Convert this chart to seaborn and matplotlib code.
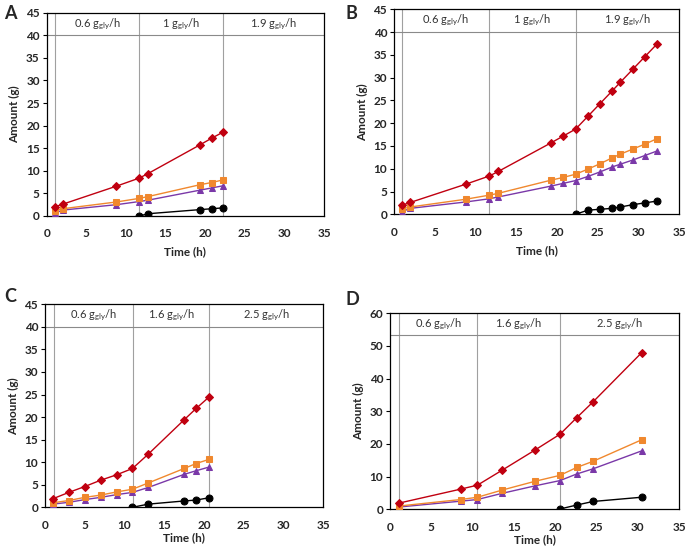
import matplotlib
matplotlib.use("Agg")
import matplotlib.pyplot as plt
import seaborn as sns
import pandas as pd

sns.set_theme(style="white")
plt.rcParams['font.family'] = ['Lato', 'DejaVu Sans']

# ---------------- data ----------------
# Panel A
a_x = [1, 2, 8.8, 11.7, 12.8, 19.3, 20.8, 22.3]
a_red = [2.0, 2.6, 6.6, 8.4, 9.4, 15.7, 17.2, 18.6]
a_orange = [1.2, 1.6, 3.1, 3.9, 4.3, 6.9, 7.4, 8.0]
a_purple = [0.6, 1.3, 2.5, 3.2, 3.5, 5.7, 6.2, 6.7]
a_black_x = [11.7, 12.8, 19.3, 20.8, 22.3]
a_black = [0.0, 0.5, 1.4, 1.6, 1.8]
a_lines = [1, 11.7, 22.3]
a_labels = ["0.6", "1", "1.9"]

# Panel B
b_x = [1, 2, 8.8, 11.7, 12.8, 19.3, 20.8, 22.3, 23.8, 25.3, 26.8, 27.8, 29.3, 30.8, 32.3]
b_red = [2.0, 2.6, 6.6, 8.4, 9.4, 15.7, 17.2, 18.7, 21.5, 24.3, 27.1, 29.0, 31.8, 34.6, 37.4]
b_orange = [1.2, 1.6, 3.3, 4.2, 4.6, 7.5, 8.1, 8.8, 9.9, 11.1, 12.4, 13.2, 14.3, 15.4, 16.6]
b_purple = [0.6, 1.3, 2.7, 3.4, 3.8, 6.2, 6.8, 7.4, 8.3, 9.3, 10.4, 11.0, 11.9, 12.9, 13.9]
b_black_x = [22.3, 23.8, 25.3, 26.8, 27.8, 29.3, 30.8, 32.3]
b_black = [0.0, 0.9, 1.1, 1.3, 1.6, 2.1, 2.5, 2.9]
b_lines = [1, 11.7, 22.3]
b_labels = ["0.6", "1", "1.9"]

# Panel C
c_x = [1, 3, 5, 7, 9, 11, 13, 17.5, 19, 20.6]
c_red = [1.9, 3.3, 4.6, 6.0, 7.2, 8.6, 11.8, 19.4, 21.9, 24.4]
c_orange = [1.0, 1.5, 2.2, 2.7, 3.4, 4.0, 5.4, 8.6, 9.7, 10.6]
c_purple = [0.7, 1.1, 1.7, 2.2, 2.8, 3.3, 4.4, 7.3, 8.1, 8.9]
c_black_x = [11, 13, 17.5, 19, 20.6]
c_black = [0.0, 0.7, 1.4, 1.6, 2.1]
c_lines = [1.1, 11.1, 20.6]
c_labels = ["0.6", "1.6", "2.5"]

# Panel D
d_x = [1.1, 8.6, 10.6, 13.6, 17.6, 20.6, 22.6, 24.6, 30.5]
d_red = [1.9, 6.2, 7.4, 12.0, 18.2, 23.0, 28.0, 32.9, 48.0]
d_orange = [1.0, 3.0, 3.7, 5.9, 8.6, 10.4, 12.8, 14.7, 21.3]
d_purple = [0.7, 2.5, 3.0, 4.9, 7.2, 8.8, 10.8, 12.4, 17.9]
d_black_x = [20.6, 22.6, 24.6, 30.5]
d_black = [0.1, 1.3, 2.4, 3.7]
d_lines = [1.1, 10.6, 20.6]
d_labels = ["0.6", "1.6", "2.5"]

RED, ORANGE, PURPLE, BLACK = "#C00010", "#F0882E", "#7A38A8", "#000000"

fig = plt.figure(figsize=(6.85, 5.49), dpi=100)

panels = [
    ("A", [0.0682, 0.6066, 0.4048, 0.3703], a_x, a_red, a_orange, a_purple, a_black_x, a_black, a_lines, a_labels, 45, 40, 5, 5),
    ("B", [0.5752, 0.6097, 0.4161, 0.3733], b_x, b_red, b_orange, b_purple, b_black_x, b_black, b_lines, b_labels, 45, 40, 5, 5),
    ("C", [0.0657, 0.0760, 0.4063, 0.3697], c_x, c_red, c_orange, c_purple, c_black_x, c_black, c_lines, c_labels, 45, 40, 5, 1),
    ("D", [0.5693, 0.0723, 0.4219, 0.3570], d_x, d_red, d_orange, d_purple, d_black_x, d_black, d_lines, d_labels, 60, 53.5, 10, 1),
]

letter_pos = {"A": (0.006, 0.975), "B": (0.505, 0.975), "C": (0.006, 0.46), "D": (0.505, 0.455)}

for (name, rect, x, red, orange, purple, bx, blk, vlines, labels, ymax, hline, ystep, lpad) in panels:
    ax = fig.add_axes(rect)
    # phase boundaries
    for v in vlines:
        ax.plot([v, v], [0, ymax], color="#a0a0a0", lw=0.8, zorder=1)
    ax.plot([0, 35], [hline, hline], color="#8a8a8a", lw=0.8, zorder=1)
    bounds = list(vlines) + [35]
    for i, lab in enumerate(labels):
        xc = (bounds[i] + bounds[i + 1]) / 2
        ax.text(xc, (hline + ymax) / 2, lab + r" g$\mathregular{_{gly}}$/h",
                ha="center", va="center", fontsize=8, color="#333333")
    sns.lineplot(x=x, y=red, ax=ax, color=RED, marker="D", markersize=4.5,
                 markeredgecolor=RED, lw=1.0, zorder=5)
    sns.lineplot(x=x, y=orange, ax=ax, color=ORANGE, marker="s", markersize=4.5,
                 markeredgecolor=ORANGE, lw=1.0, zorder=4)
    sns.lineplot(x=x, y=purple, ax=ax, color=PURPLE, marker="^", markersize=5,
                 markeredgecolor=PURPLE, lw=1.0, zorder=3)
    sns.lineplot(x=bx, y=blk, ax=ax, color=BLACK, marker="o", markersize=5,
                 markeredgecolor=BLACK, lw=1.0, zorder=6)
    ax.set_xlim(0, 35)
    ax.set_ylim(0, ymax)
    ax.set_xticks(range(0, 36, 5))
    ax.set_yticks(range(0, ymax + 1, ystep))
    for s in ax.spines.values():
        s.set_color("black")
        s.set_linewidth(0.9)
    ax.tick_params(axis="y", which="both", left=True, length=3, width=0.8, color="black",
                   labelsize=8.5, pad=2)
    ax.tick_params(axis="x", which="both", bottom=False, labelsize=8.5, pad=3)
    for t in ax.get_xticklabels() + ax.get_yticklabels():
        t.set_fontweight("bold")
    ax.set_xlabel("Time (h)", fontsize=8.5, fontweight="bold", labelpad=lpad)
    ax.set_ylabel("Amount (g)", fontsize=8.5, fontweight="bold", labelpad=4)
    fig.text(letter_pos[name][0], letter_pos[name][1], name, fontsize=13,
             fontweight="bold", ha="left", va="center")

fig.savefig("out.png", dpi=100)
